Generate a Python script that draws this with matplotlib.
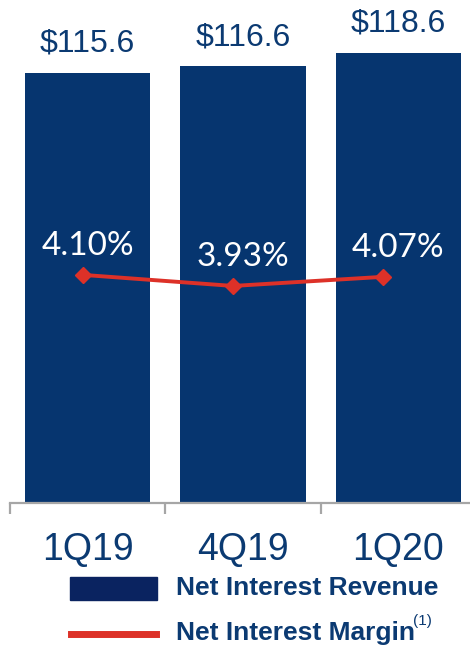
import matplotlib
matplotlib.use("Agg")
import matplotlib.pyplot as plt
from matplotlib.patches import Rectangle
from matplotlib.lines import Line2D

# === DATA ===
quarters = ["1Q19", "4Q19", "1Q20"]
revenue = [115.6, 116.6, 118.6]
margin = [4.10, 3.93, 4.07]
revenue_labels = ["$115.6", "$116.6", "$118.6"]
margin_labels = ["4.10%", "3.93%", "4.07%"]

# === STYLE ===
BAR_BLUE = "#06356F"
LEGEND_BLUE = "#0A2360"
TEXT_BLUE = "#0B3A72"
RED = "#DD3128"
AXIS_GRAY = "#A6A6A6"

W, H = 470, 649
fig = plt.figure(figsize=(W / 100, H / 100), dpi=100)

# axes spans x 10..476 px, baseline at y=503 px
ax = fig.add_axes([10 / W, 1 - 503 / H, 466 / W, 503 / H])
x = list(range(len(quarters)))
ax.bar(x, revenue, width=0.805, color=BAR_BLUE, zorder=2)
ax.set_xlim(-0.5, 2.5)
ax.set_ylim(51.1, 126.5)

for xi, val, lab in zip(x, revenue, revenue_labels):
    ax.annotate(lab, (xi, val), xytext=(0, 10), textcoords="offset points",
                ha="center", va="bottom", fontsize=23, color=TEXT_BLUE,
                family="Liberation Sans")

for s in ["top", "right", "left"]:
    ax.spines[s].set_visible(False)
ax.spines["bottom"].set_color(AXIS_GRAY)
ax.spines["bottom"].set_linewidth(1.6)
ax.set_yticks([])
ax.set_xticks(x)
ax.set_xticklabels(quarters, fontsize=27, color=TEXT_BLUE, family="Liberation Sans")
ax.tick_params(axis="x", which="major", length=0, pad=21)
ax.set_xticks([-0.5, 0.5, 1.5, 2.5], minor=True)
ax.tick_params(axis="x", which="minor", length=8, width=1.6, color=AXIS_GRAY)

# margin line on its own scale (narrower category spacing than the bars)
ax2 = fig.add_axes(ax.get_position(), frameon=False)
ax2.set_xlim(-0.487, 2.62)
ax2.set_ylim(0.59, 8.33)
ax2.plot(x, margin, color=RED, linewidth=2.8, marker="D", markersize=8.5,
         markerfacecolor=RED, markeredgecolor=RED, zorder=3)
ax2.axis("off")

# percent labels sit over the bar centres
for xi, val, lab in zip(x, margin, margin_labels):
    ax2.annotate(lab, (xi, val), xycoords=(ax.transData, ax2.transData),
                 xytext=(0, 10), textcoords="offset points",
                 ha="center", va="bottom", fontsize=24, color="white",
                 family="Lato")

# === LEGEND ===
fig.patches.append(Rectangle((70 / W, 1 - 600 / H), 87 / W, 23 / H,
                             transform=fig.transFigure, color=LEGEND_BLUE))
fig.lines.append(Line2D([71 / W, 156 / W], [1 - 634 / H, 1 - 634 / H],
                        transform=fig.transFigure, color=RED, linewidth=5))
fig.text(176 / W, 1 - 588 / H, "Net Interest Revenue", fontsize=19,
         fontweight="bold", color=TEXT_BLUE, va="center", family="Liberation Sans")
fig.text(176 / W, 1 - 633 / H, "Net Interest Margin", fontsize=19,
         fontweight="bold", color=TEXT_BLUE, va="center", family="Liberation Sans")
fig.text(413 / W, 1 - 621 / H, "(1)", fontsize=11, color=TEXT_BLUE,
         va="center", family="Liberation Sans")

fig.savefig("out.png", dpi=100)
